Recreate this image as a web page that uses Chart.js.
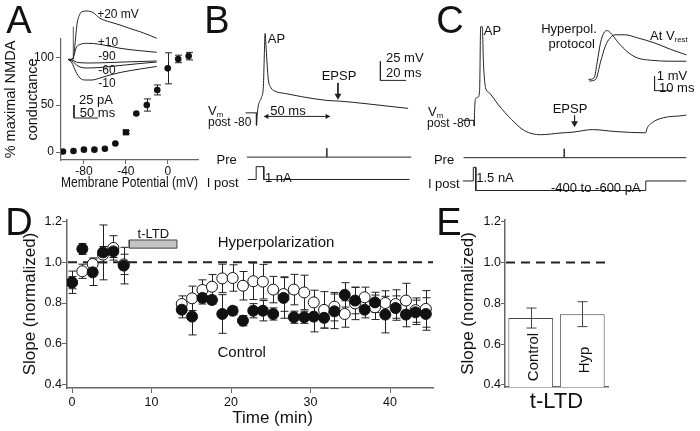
<!DOCTYPE html>
<html>
<head>
<title>t-LTD figure</title>
<script src="https://cdn.jsdelivr.net/npm/chart.js@4.4.0/dist/chart.umd.min.js"></script>
<style>
    body { margin: 0; background: #fff; }
    #fig {
        position: relative;
        width: 700px;
        height: 431px;
        overflow: hidden;
        background: #fff;
        font-family: 'Liberation Sans', Arial, sans-serif;
        color: #111;
    }
    #fig canvas { position: absolute; }
    .lbl { position: absolute; white-space: nowrap; line-height: 1; }
    .lbl sub { font-size: 0.6em; vertical-align: -0.3em; line-height: 0; }
</style>
</head>
<body>
<div id="fig">
    <canvas id="chartA" width="210" height="195" style="left:0px;top:0px"></canvas>
    <canvas id="insetA" width="100" height="125" style="left:60px;top:0px"></canvas>
    <canvas id="chartB" width="180" height="180" style="left:240px;top:20px"></canvas>
    <canvas id="chartC" width="280" height="190" style="left:420px;top:10px"></canvas>
    <canvas id="chartD" width="440" height="231" style="left:0px;top:200px"></canvas>
    <canvas id="chartE" width="245" height="231" style="left:455px;top:200px"></canvas>
</div>
<script>
    // ---- A: NMDA conductance vs membrane potential
    const vmSteps = [-100, -90, -80, -70, -60, -50, -40, -30, -20, -10, 0, 10, 20];
    const nmdaPct = [0.5, 1, 2.5, 2.5, 3.5, 9, 21, 41, 50, 66, 89, 99, 102];
    const nmdaErr = [0, 0, 0, 0, 0, 0, 1.5, 0, 6.5, 5.3, 16.5, 4, 4];

    // A inset: NMDA currents (ms, pA) at each holding potential
    const insT20 = [0, 6.3, 10.4, 14.6, 19.8, 25, 35.4, 47.9, 62.5, 83.3, 104.2, 125, 145.8, 166.7, 180.6];
    const insI20 = [0, 0.6, 29.4, 67.9, 85.2, 91.5, 92.9, 90, 78.8, 71.7, 66, 59.2, 53.1, 45.8, 40.4];
    const insT10 = [-3.5, 4.2, 14, 20.8, 34.8, 62.5, 104.2, 145.8, 180.6];
    const insI10 = [0, 0, 24.2, 28.5, 30.8, 28.8, 21.2, 16.5, 13.5];
    const insTm90 = [-4.2, 4.2, 16.7, 41.7, 83.3, 125, 180.6];
    const insIm90 = [0, -1.3, -6.2, -7.1, -6.2, -4.8, -3.3];
    const insTm60 = [-4.2, 4.2, 16.7, 33.3, 62.5, 104.2, 145.8, 180.6];
    const insIm60 = [0, -3.3, -12.9, -16.7, -15.8, -11.9, -8.1, -5.2];
    const insTm10 = [-4.2, 4.2, 12.5, 20.8, 31.3, 45.8, 62.5, 83.3, 104.2, 145.8, 180.6];
    const insIm10 = [0, -7.1, -24.4, -36, -39.8, -39.8, -36, -30.2, -25.4, -18.7, -13.8];

    // ---- B: AP then EPSP (ms, mV)
    const bTime = [0.2, 0.6, 3.9, 5.4, 6.1, 6.7, 7.6, 9.1, 11.3, 13.9, 22.4, 34.8, 54.6, 64.4, 84.2, 117.6];
    const bVm = [-80, -66.3, -43.4, -28.8, 10.9, 40, 19.1, -18.4, -30.9, -35, -38.4, -42.5, -47.5, -48.4, -51.6, -57.9];
    const bPreTime = [-7.4, 54.6, 54.6, 54.6, 120];
    const bPreLevel = [0, 0, 1, 0, 0];
    const bIpostTime = [-6.7, -0.2, -0.2, 5.7, 5.7, 118.7];
    const bIpostNa = [0, 0, 1, 1, 0, 0];

    // ---- C: AP then hyperpolarization protocol (ms, mV)
    const cTime = [0, 0.4, 1.2, 3.0, 4.1, 4.9, 6.1, 7.1, 8.6, 11.1, 18.5, 28.4, 38.2, 50.6, 65.4, 75.3, 90.1, 107.4, 130.8, 131.6, 135.8, 144.4, 159.3, 161.7];
    const cVm = [-80, -54.6, -44.1, -42.1, -33.8, 49.6, 49.6, -0.4, -29.6, -35.9, -52.5, -71.3, -85.9, -91.3, -89.1, -87.9, -84.6, -87.1, -88.8, -83.8, -75.4, -69.1, -66.3, -65.6];
    const cPreTime = [-8.1, 68.6, 68.6, 68.6, 161.7];
    const cPreLevel = [0, 0, 1, 0, 0];
    const cIpostTime = [-8.7, -0.7, -0.7, 1.2, 1.2, 130.8, 130.8, 161.7];
    const cIpostLevel = [0, 0, 1.5, 1.5, -1.05, -1.05, 0, 0];
    // C inset: EPSPs (ms, mV)
    const epspHypTime = [0, 3.2, 5, 6.9, 8.7, 10.6, 12.4, 17.1, 22.6, 28.2, 35.6, 46.7, 56];
    const epspHyp = [0.11, 0.22, 1.33, 2.67, 3.33, 3.51, 3.38, 2.67, 2.0, 1.6, 1.45, 1.38, 1.38];
    const epspRestTime = [0.4, 4.1, 6.9, 9.7, 12.4, 15.2, 20.8, 28.2, 37.4, 46.7, 56];
    const epspRest = [0, 0.11, 1.33, 2.45, 3.0, 3.22, 3.22, 3.0, 2.67, 2.22, 1.82];

    // ---- D: slope time course
    const dTime = [0, 1.3, 2.6, 3.9, 5.2, 6.5, 13.8, 15.1, 16.4, 17.6, 18.9, 20.2, 21.5, 22.8, 24.0, 25.3,
        26.6, 27.9, 29.2, 30.4, 31.7, 33.0, 34.3, 35.6, 36.8, 38.1, 39.4, 40.7, 42.0, 43.2, 44.5];
    const ctrlSlope = [0.902, 1.066, 0.951, 1.049, 1.054, 0.984, 0.767, 0.733, 0.825, 0.815, 0.746, 0.762, 0.713, 0.762, 0.762, 0.746,
        0.825, 0.73, 0.73, 0.733, 0.727, 0.759, 0.84, 0.812, 0.767, 0.803, 0.743, 0.775, 0.743, 0.754, 0.746];
    const ctrlErr = [0.055, 0.027, 0.065, 0.135, 0.03, 0.09, 0.04, 0.09, 0.03, 0.02, 0.095, 0.02, 0.025, 0.035, 0.05, 0.03,
        0.1, 0.03, 0.03, 0.075, 0.05, 0.085, 0.06, 0.065, 0.04, 0.05, 0.09, 0.06, 0.06, 0.06, 0.08];
    const hypSlope = [0.9, 0.956, 0.992, 1.038, 1.071, 0.99, 0.795, 0.823, 0.864, 0.88, 0.921, 0.923, 0.885, 0.907, 0.905, 0.866,
        0.844, 0.866, 0.852, 0.803, 0.766, 0.782, 0.746, 0.798, 0.828, 0.779, 0.8, 0.795, 0.812, 0.765, 0.771];
    const hypErr = [0.03, 0.035, 0.03, 0.04, 0.06, 0.05, 0.04, 0.06, 0.05, 0.06, 0.07, 0.065, 0.07, 0.09, 0.085, 0.065,
        0.085, 0.075, 0.085, 0.06, 0.09, 0.07, 0.065, 0.08, 0.05, 0.06, 0.06, 0.07, 0.085, 0.06, 0.09];
    const tltdWindow = [7.2, 13.2];   // min
    const tltdBand = [1.07, 1.11];    // where the bar sits

    // ---- E: t-LTD summary
    const ltdGroups = ['Control', 'Hyp'];
    const ltdMean = [0.728, 0.747];
    const ltdSem = [0.049, 0.061];
    const baselineSlope = 1.0;
    const slopeTicks = [0.4, 0.6, 0.8, 1.0, 1.2];

    Chart.defaults.font.family = "'Liberation Sans', Arial, sans-serif";
    Chart.defaults.color = '#111';

    const xy = (xs, ys) => xs.map((x, i) => ({x: x, y: ys[i]}));
    const INK = '#222';
    const AXIS = '#666';

    // error bars from dataset.errors, through the y scale
    function drawErrors(chart) {
        const ctx = chart.ctx;
        chart.data.datasets.forEach((ds, i) => {
            if (!ds.errors) return;
            const meta = chart.getDatasetMeta(i);
            const ys = chart.scales[meta.yAxisID];
            const w = (ds.capWidth || 8) / 2;
            ctx.save();
            ctx.strokeStyle = ds.errorColor || INK;
            ctx.lineWidth = 1;
            meta.data.forEach((el, j) => {
                const e = ds.errors[j];
                if (!e) return;
                const raw = ds.data[j];
                const v = typeof raw === 'object' ? raw.y : raw;
                const top = ys.getPixelForValue(v + e);
                const bot = ys.getPixelForValue(v - e);
                const x = Math.round(el.x) + 0.5;
                ctx.beginPath();
                ctx.moveTo(x, top); ctx.lineTo(x, bot);
                ctx.moveTo(x - w, top); ctx.lineTo(x + w, top);
                ctx.moveTo(x - w, bot); ctx.lineTo(x + w, bot);
                ctx.stroke();
            });
            ctx.restore();
        });
    }
    const errorBars = {
        id: 'errorBars',
        beforeDatasetsDraw(chart, args, opts) { if (!opts.front) drawErrors(chart); },
        afterDatasetsDraw(chart, args, opts) { if (opts.front) drawErrors(chart); }
    };

    // dashed reference line across the plot area
    const refLine = {
        id: 'refLine',
        beforeDatasetsDraw(chart, args, opts) {
            if (opts.value === undefined) return;
            const y = chart.scales.y.getPixelForValue(opts.value);
            const a = chart.chartArea;
            const ctx = chart.ctx;
            ctx.save();
            ctx.strokeStyle = INK;
            ctx.lineWidth = 2;
            ctx.setLineDash([9, 6]);
            ctx.beginPath();
            ctx.moveTo(a.left + 1, y);
            ctx.lineTo(a.right, y);
            ctx.stroke();
            ctx.restore();
        }
    };

    const baseOpts = {
        responsive: false,
        animation: false,
        events: []
    };
    const quiet = {legend: {display: false}, tooltip: {enabled: false}};

    function trace(data, yAxisID, extra) {
        return Object.assign({
            data: data, yAxisID: yAxisID, showLine: true, pointRadius: 0,
            borderColor: INK, backgroundColor: INK, borderWidth: 1, tension: 0
        }, extra || {});
    }
    function heads(data, yAxisID, rot, r) {
        return {
            data: data, yAxisID: yAxisID, showLine: false, pointStyle: 'triangle',
            pointRadius: r, pointRotation: rot, backgroundColor: INK, borderColor: INK, borderWidth: 0
        };
    }
    const smooth = {cubicInterpolationMode: 'monotone'};
    const hidden = (min, max, pos) => ({type: 'linear', display: false, min: min, max: max, position: pos});

    // ---------------- Panel A
    new Chart(document.getElementById('chartA'), {
        type: 'scatter',
        data: {
            datasets: [{
                data: xy(vmSteps, nmdaPct),
                errors: nmdaErr,
                capWidth: 7,
                pointStyle: vmSteps.map(v => v === -40 ? 'rect' : 'circle'),
                pointRadius: vmSteps.map(v => v === -40 ? 4.4 : 3.3),
                backgroundColor: '#111',
                borderColor: '#111',
                borderWidth: 0
            }]
        },
        options: Object.assign({}, baseOpts, {
            layout: {padding: {top: 39, right: 12, left: 0, bottom: 0}},
            plugins: Object.assign({}, quiet, {errorBars: {front: false}}),
            scales: {
                x: {
                    type: 'linear', min: -101.9, max: 28.9,
                    afterFit: s => { s.height = 35; },
                    afterBuildTicks: s => { s.ticks = [-80, -40, 0].map(v => ({value: v})); },
                    ticks: {font: {size: 12}, padding: 0, color: '#111'},
                    grid: {drawOnChartArea: false, drawTicks: true, tickLength: 4, color: AXIS},
                    border: {display: true, color: AXIS, width: 1.2},
                    title: {display: true, text: 'Membrane Potential (mV)', font: {size: 14.5}, padding: {top: 0, bottom: 3}, color: '#111'}
                },
                y: {
                    type: 'linear', min: -8.5, max: 120.2,
                    afterFit: s => { s.width = 61; },
                    afterBuildTicks: s => { s.ticks = [0, 50, 100].map(v => ({value: v})); },
                    ticks: {font: {size: 12}, padding: 2, color: '#111'},
                    grid: {drawOnChartArea: false, drawTicks: true, tickLength: 5, color: AXIS},
                    border: {display: true, color: AXIS, width: 1.2},
                    title: {display: true, text: ['% maximal NMDA', 'conductance'], font: {size: 14.5, lineHeight: 1.5}, padding: {top: 0, bottom: 0}, color: '#111'}
                }
            }
        }),
        plugins: [errorBars]
    });

    // A inset traces
    new Chart(document.getElementById('insetA'), {
        type: 'scatter',
        data: {
            datasets: [
                trace(xy(insT20, insI20), 'y', smooth),
                trace(xy(insT10, insI10), 'y', smooth),
                trace(xy(insTm90, insIm90), 'y', smooth),
                trace(xy(insTm60, insIm60), 'y', smooth),
                trace(xy(insTm10, insIm10), 'y', smooth),
                trace(xy([6.9, 6.9], [0, 62.7]), 'y', {borderColor: '#555'}),
                trace(xy([8.3, 8.3, 58.3], [-87.9, -112.9, -112.9]), 'y')      // 25 pA / 50 ms
            ]
        },
        options: Object.assign({}, baseOpts, {
            plugins: quiet,
            scales: {x: hidden(-20.83, 187.5, 'bottom'), y: hidden(-126.3, 114.0, 'left')}
        })
    });

    // ---------------- Panel B
    new Chart(document.getElementById('chartB'), {
        type: 'scatter',
        data: {
            datasets: [
                trace(xy(bTime, bVm), 'yV', smooth),
                trace(xy([-8.4, 0, 0], [-63.75, -63.75, -80]), 'yV'),
                trace(xy([5.9, 57], [-68.4, -68.4]), 'yV'),
                heads(xy([8.1, 54.8], [-68.4, -68.4]), 'yV', [-90, 90], 3),
                trace(xy([63.2, 63.2], [-24.6, -42]), 'yV'),
                heads(xy([63.2], [-41.25]), 'yV', [180], 4),
                trace(xy([96.1, 96.1, 116.1], [3.75, -21.25, -21.25]), 'yV'),     // 25 mV / 20 ms
                trace(xy(bPreTime, bPreLevel), 'yPre'),
                trace(xy(bIpostTime, bIpostNa), 'yI')
            ]
        },
        options: Object.assign({}, baseOpts, {
            plugins: quiet,
            scales: {
                x: hidden(-9.63, 123.7, 'bottom'),
                yV: hidden(-172.5, 52.5, 'left'),
                yPre: hidden(-4.376, 14.98, 'left'),
                yI: hidden(-1.291, 12.142, 'left')
            }
        })
    });

    // ---------------- Panel C
    new Chart(document.getElementById('chartC'), {
        type: 'scatter',
        data: {
            datasets: [
                trace(xy(cTime, cVm), 'yV', smooth),
                trace(xy([-8.7, 0, 0], [-72.5, -72.5, -80]), 'yV'),
                trace(xy([76.5, 76.5], [-66.25, -77]), 'yV'),
                heads(xy([76.5], [-76.25]), 'yV', [180], 4),
                trace(xy(cPreTime, cPreLevel), 'yPre'),
                trace(xy(cIpostTime, cIpostLevel), 'yI'),
                Object.assign(trace(xy(epspHypTime, epspHyp), 'yIn', smooth), {xAxisID: 'xi'}),
                Object.assign(trace(xy(epspRestTime, epspRest), 'yIn', smooth), {xAxisID: 'xi'}),
                Object.assign(trace(xy([37.8, 37.8, 47.8], [0.333, -0.667, -0.667]), 'yIn'), {xAxisID: 'xi'})  // 1 mV / 10 ms
            ]
        },
        options: Object.assign({}, baseOpts, {
            plugins: quiet,
            scales: {
                x: hidden(-38.3, 169.1, 'bottom'),
                xi: hidden(-94.06, 61.5, 'bottom'),
                yV: hidden(-171.25, 66.25, 'left'),
                yPre: hidden(-4.301, 16.129, 'left'),
                yI: hidden(-1.653, 18.347, 'left'),
                yIn: hidden(-8, 4.667, 'left')
            }
        })
    });

    // ---------------- Panel D
    const tltdPoly = xy(
        [tltdWindow[0], tltdWindow[1], tltdWindow[1], tltdWindow[0], tltdWindow[0]],
        [tltdBand[0], tltdBand[0], tltdBand[1], tltdBand[1], tltdBand[0]]
    );
    const slopeAxis = (min, max, width, titlePad, tickLen) => ({
        type: 'linear', min: min, max: max,
        afterFit: s => { s.width = width; },
        afterBuildTicks: s => { s.ticks = slopeTicks.map(v => ({value: v})); },
        ticks: {font: {size: 12.5}, padding: 0, color: '#111', callback: v => v.toFixed(1)},
        grid: {drawOnChartArea: false, drawTicks: true, tickLength: tickLen, color: AXIS},
        border: {display: true, color: AXIS, width: 1.5},
        title: {display: true, text: 'Slope (normalized)', font: {size: 17}, padding: {top: titlePad, bottom: 0}, color: '#111'}
    });

    new Chart(document.getElementById('chartD'), {
        type: 'scatter',
        data: {
            datasets: [
                {
                    label: 'Control', data: xy(dTime, ctrlSlope), errors: ctrlErr, capWidth: 8,
                    pointRadius: 5.5, backgroundColor: '#111', borderColor: '#111', borderWidth: 1
                },
                {
                    label: 'Hyperpolarization', data: xy(dTime, hypSlope), errors: hypErr, capWidth: 8,
                    pointRadius: 5.5, backgroundColor: '#fff', borderColor: '#111', borderWidth: 1
                },
                {
                    label: 't-LTD', data: tltdPoly, showLine: true, fill: 'shape', tension: 0,
                    pointRadius: 0, backgroundColor: '#c4c4c4', borderColor: '#444', borderWidth: 1
                }
            ]
        },
        options: Object.assign({}, baseOpts, {
            layout: {padding: {top: 20, right: 7, left: 0, bottom: 0}},
            plugins: Object.assign({}, quiet, {errorBars: {front: false}, refLine: {value: baselineSlope}}),
            scales: {
                x: {
                    type: 'linear', min: -0.63, max: 45.4,
                    afterFit: s => { s.height = 43; },
                    afterBuildTicks: s => { s.ticks = [0, 10, 20, 30, 40].map(v => ({value: v})); },
                    ticks: {font: {size: 12.5}, padding: 2, color: '#111'},
                    grid: {drawOnChartArea: false, drawTicks: true, tickLength: 5, color: AXIS},
                    border: {display: true, color: AXIS, width: 1.5}
                },
                y: slopeAxis(0.3818, 1.2084, 67, 20.3, 5)
            }
        }),
        plugins: [refLine, errorBars]
    });

    // ---------------- Panel E
    new Chart(document.getElementById('chartE'), {
        type: 'bar',
        data: {
            labels: ltdGroups,
            datasets: [{
                data: ltdMean, errors: ltdSem, capWidth: 10, errorColor: '#444',
                backgroundColor: '#fff', borderColor: '#444', borderWidth: 1,
                barPercentage: 0.87, categoryPercentage: 1
            }]
        },
        options: Object.assign({}, baseOpts, {
            layout: {padding: {top: 20, right: 92, left: 0, bottom: 0}},
            plugins: Object.assign({}, quiet, {errorBars: {front: true}, refLine: {value: baselineSlope}}),
            scales: {
                x: {
                    afterFit: s => { s.height = 44; },
                    ticks: {display: false},
                    grid: {display: false},
                    border: {display: true, color: AXIS, width: 1.5},
                    title: {display: true, text: 't-LTD', font: {size: 22}, padding: {top: 0, bottom: 15.8}, color: '#111'}
                },
                y: slopeAxis(0.3902, 1.2083, 50, 2.8, 4)
            }
        }),
        plugins: [refLine, errorBars]
    });

    // ---------------- text annotations
    const notes = [
        ['A', 19, 20, 38], ['B', 217, 20, 38], ['C', 450, 20, 38], ['D', 19, 222, 38], ['E', 449, 222, 38],
        ['+20 mV', 118, 14, 12], ['+10', 108, 41.5, 12], ['-90', 107, 55.5, 12], ['-60', 107, 70, 12], ['-10', 107, 83, 12],
        ['25 pA', 96, 98.5, 13], ['50 ms', 97.5, 112, 13],
        ['AP', 276.5, 38, 13], ['EPSP', 339, 75, 13], ['25 mV', 386, 56.7, 13, 'l'], ['20 ms', 386, 71.7, 13, 'l'],
        ['50 ms', 288, 110, 13], ['V<sub>m</sub>', 208, 110, 13, 'l'], ['post -80', 208, 122, 12, 'l'],
        ['Pre', 226.7, 159.3, 13], ['I post', 222.7, 181.7, 13], ['1 nA', 278.3, 176.7, 13],
        ['AP', 492.5, 30, 13], ['Hyperpol.', 569, 28, 13], ['protocol', 571.7, 43, 13],
        ['At V<sub>rest</sub>', 650, 35, 13, 'l'], ['1 mV', 672, 75, 13], ['10 ms', 676.7, 86.7, 13],
        ['EPSP', 570, 108, 13], ['V<sub>m</sub>', 428, 111, 13, 'l'], ['post -80', 427, 123, 12, 'l'],
        ['Pre', 444, 159.3, 13], ['I post', 443.8, 182.7, 13], ['1.5 nA', 495, 176.7, 13], ['-400 to -600 pA', 595.8, 187.3, 13],
        ['t-LTD', 153.3, 232.5, 13], ['Hyperpolarization', 276, 241, 15], ['Control', 241.7, 350.8, 15],
        ['Time (min)', 272.5, 417, 17],
        ['Control', 531.7, 356.7, 15, 'c', -90], ['Hyp', 583.3, 359.5, 15, 'c', -90]
    ];
    const fig = document.getElementById('fig');
    notes.forEach(([html, x, y, size, anchor, rot]) => {
        const d = document.createElement('div');
        d.className = 'lbl';
        d.innerHTML = html;
        d.style.left = x + 'px';
        d.style.top = y + 'px';
        d.style.fontSize = size + 'px';
        const tx = anchor === 'l' ? '0' : '-50%';
        d.style.transform = 'translate(' + tx + ',-50%)' + (rot ? ' rotate(' + rot + 'deg)' : '');
        fig.appendChild(d);
    });
</script>
</body>
</html>
